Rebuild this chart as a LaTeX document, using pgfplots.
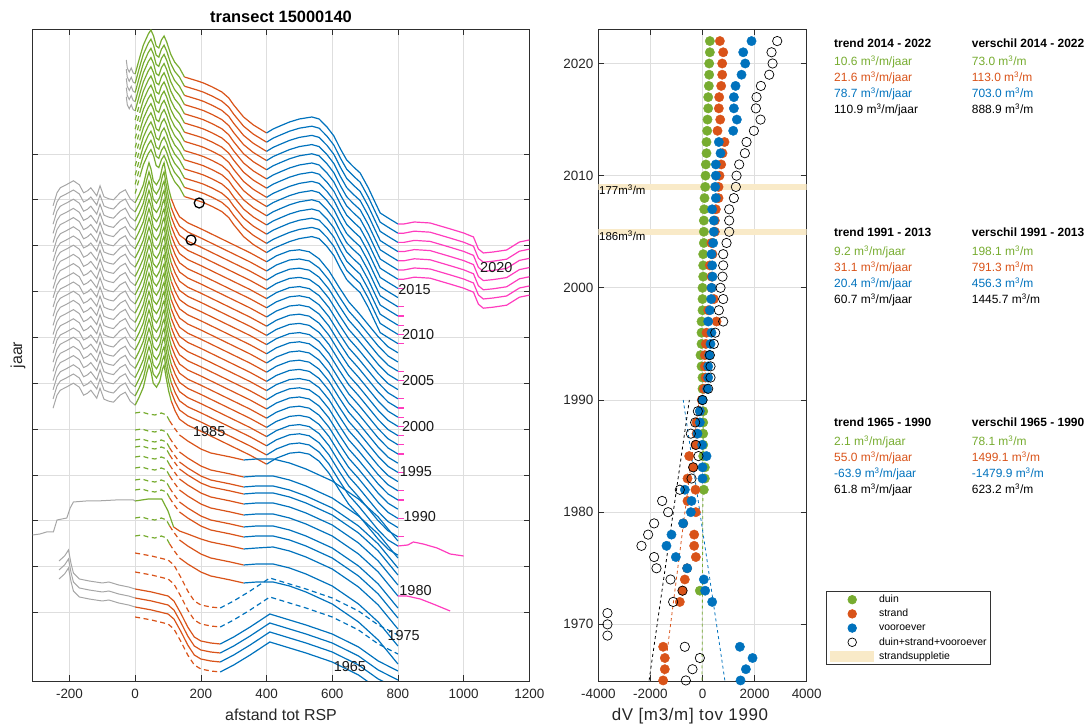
\documentclass[border=0pt]{standalone}
\usepackage{fontspec}
\setmainfont{Liberation Sans}
\usepackage{pgfplots}
\usepackage{pgfplotstable}
\pgfplotsset{compat=1.18}

\definecolor{cdu}{rgb}{0.466,0.674,0.188}
\definecolor{cst}{rgb}{0.850,0.325,0.098}
\definecolor{cvo}{rgb}{0.000,0.447,0.741}
\definecolor{cmag}{RGB}{255,60,190}
\definecolor{cgr}{rgb}{0.65,0.65,0.65}
\definecolor{cband}{RGB}{249,234,200}
\newcommand\fs[1]{\fontsize{#1}{#1}\selectfont}

% profile shapes: x = afstand tot RSP, r = hoogte t.o.v. punt op x=0
\pgfplotstableread{
x r
-27 14
-24 6
-18 2
-12 6
-6 1
0 0
10 12
16 19
25 29
40 40
48 44
56 38
64 28
72 26
80 34
88 38
96 32
108 20
120 12
135 6
150 -3
170 -5
190 -7
208 -9
235 -13
264 -18
285 -24
300 -31
330 -43
360 -51
385 -56
400 -59
420 -55
441 -52
470 -48
500 -45
538 -43
560 -45
584 -53
605 -62
625 -75
644 -86
665 -93
685 -99
710 -114
730 -128
746 -139
770 -144
785 -147
800 -150
818 -150
850 -148
898 -149
960 -155
1000 -159
1030 -163
1045 -175
1060 -179
1090 -178
1131 -176
1170 -168
1200 -166
}\shA

\pgfplotstableread{
x r
-250 -3
-238 10
-228 15
-210 18
-188 22
-170 18
-157 10
-145 12
-135 15
-117 7
-107 17
-95 6
-80 4
-66 3
-46 10
-30 13
-15 4
0 0
12 8
25 18
35 32
42 40
48 34
55 22
65 18
75 24
83 36
88 40
94 28
102 14
110 4
122 -6
135 -14
160 -20
200 -26
250 -34
300 -42
350 -50
400 -59
430 -53
470 -48
500 -47
530 -49
560 -56
590 -68
620 -84
650 -99
680 -110
710 -122
740 -134
770 -144
800 -150
818 -150
}\shC

\pgfplotstableread{
x r
0 0
20 1
40 -1
60 -2
80 0
95 -2
105 -8
117 -14
135 -22
160 -28
200 -36
230 -40
260 -42
290 -44
330 -47
370 -46
420 -46
470 -50
520 -56
600 -68
680 -86
740 -104
800 -128
818 -128
}\shG

\pgfplotstableread{
x r
-312 -34
-290 -33
-270 -31
-249 -31
-238 -19
-208 -17
-198 -7
-188 -1
-150 0
-117 0
-60 1
-5 1
0 0
40 2
81 2
100 -10
117 -26
135 -30
160 -33
200 -38
230 -41
260 -43
290 -45
330 -48
370 -47
420 -46
470 -50
520 -56
600 -68
680 -86
740 -104
800 -128
}\shGg

\pgfplotstableread{
x r
-232 28
-215 33
-203 39
-195 25
-188 16
-170 10
-140 8
-100 6
-80 7
-50 4
-20 2
0 0
50 -3
100 -7
118 -12
140 -25
160 -38
180 -48
200 -52
230 -54
259 -55
300 -48
350 -38
410 -25
460 -30
520 -36
600 -45
680 -58
740 -72
800 -82
}\shH

% dV t.o.v. 1990 [m3/m]
\pgfplotstableread{
Y V
1973 -102
1982 51
1983 90
1984 90
1985 26
1986 26
1987 26
1988 26
1989 26
1990 0
1991 0
1992 0
1993 -38
1994 -77
1995 -38
1996 -38
1997 -38
1998 0
1999 0
2000 0
2001 26
2002 26
2003 26
2004 51
2005 51
2006 51
2007 64
2008 77
2009 102
2010 115
2011 128
2012 154
2013 154
2014 179
2015 192
2016 218
2017 218
2018 243
2019 256
2020 256
2021 282
2022 282
}\duin

\pgfplotstableread{
Y V
1965 -1511
1966 -1447
1967 -1447
1968 -1511
1972 -871
1973 -768
1974 -679
1975 -590
1976 -256
1977 -320
1978 -320
1979 -740
1980 -256
1981 -576
1982 -269
1983 -576
1984 -358
1985 -512
1986 -269
1987 -230
1988 -230
1989 -100
1990 -30
1991 51
1992 115
1993 90
1994 90
1995 128
1996 154
1997 538
1998 218
1999 435
2000 346
2001 346
2002 282
2003 384
2004 346
2005 474
2006 474
2007 512
2008 615
2009 615
2010 653
2011 717
2012 768
2013 845
2014 576
2015 679
2016 627
2017 640
2018 717
2019 755
2020 755
2021 794
2022 666
}\strand

\pgfplotstableread{
Y V
1965 1460
1966 1665
1967 1921
1968 1434
1972 371
1973 102
1974 51
1975 -589
1976 -1024
1977 -1383
1978 -1191
1979 -743
1980 -448
1981 -422
1982 -678
1983 0
1984 0
1985 154
1986 -13
1987 -192
1988 -102
1989 -102
1990 0
1991 179
1992 218
1993 218
1994 256
1995 307
1996 346
1997 218
1998 282
1999 333
2000 346
2001 384
2002 371
2003 346
2004 410
2005 435
2006 435
2007 371
2008 512
2009 487
2010 512
2011 512
2012 691
2013 627
2014 1178
2015 1319
2016 1204
2017 1204
2018 1268
2019 1498
2020 1639
2021 1562
2022 1882
}\voor

\pgfplotstableread{
Y V
1965 -640
1966 -384
1967 -102
1968 -679
1969 -3649
1970 -3649
1971 -3649
1972 -1127
1973 -768
1974 -1229
1975 -1767
1976 -1857
1977 -2343
1978 -2087
1979 -1857
1980 -1319
1981 -1549
1982 -870
1983 -422
1984 -358
1985 -154
1986 -256
1987 -448
1988 -282
1989 -179
1990 0
1991 218
1992 307
1993 307
1994 282
1995 435
1996 487
1997 794
1998 627
1999 794
2000 691
2001 768
2002 794
2003 794
2004 922
2005 1024
2006 1024
2007 1024
2008 1204
2009 1280
2010 1306
2011 1408
2012 1626
2013 1690
2014 1972
2015 2228
2016 2049
2017 2074
2018 2241
2019 2561
2020 2689
2021 2650
2022 2868
}\totaal

\pgfplotsset{
  base/.style={
    scale only axis, anchor=south west,
    axis line style={draw=black!82, line width=0.7bp},
    tick style={draw=black!82, line width=0.7bp},
    major tick length=5.5bp, tick align=inside,
    xtick pos=both, ytick pos=both,
    grid=major, major grid style={draw=black!13, line width=0.7bp},
    ticklabel style={font=\fs{13.5}, text=black!85},
    xticklabel style={yshift=-5bp},
    yticklabel style={xshift=-1.5bp},
  },
  lp/.style={line width=1.2bp, no markers, forget plot},
  dsh/.style={dash pattern=on 5bp off 3.5bp},
}
\tikzset{lab/.style={anchor=west, inner sep=0pt, font=\fs{14.5}, text=black!90}}
\newcommand{\seg}[5]{\addplot[#1] table[x=x, y expr=\thisrow{r}+#3, restrict x to domain=#4:#5] {#2};}

\begin{document}
\begin{tikzpicture}[x=1bp,y=1bp]
\path[use as bounding box] (0,0) rectangle (1087,724);

\begin{axis}[base, at={(32.7bp,43bp)}, width=496.6bp, height=651.7bp,
  xmin=-312, xmax=1200, ymin=0, ymax=651.7,
  xtick={-200,0,200,400,600,800,1000,1200},
  xticklabels={-200,0,200,400,600,800,1000,1200},
  ytick={69,115,161,206,252,298,344,390,436,482,527}, yticklabels={}]

% 2018-2022: korte grijze duinrand
\pgfplotsinvokeforeach{607,597.8,588.6,579.4,570.2}{
  \seg{lp,cgr,line width=1bp}{\shA}{#1}{-30}{0}
  \seg{lp,cdu}{\shA}{#1}{0}{150}
}
% 2009-2017: gestreept begin duin
\pgfplotsinvokeforeach{561,551.8,542.6,533.4,524.2,515,505.8,496.6,487.4}{
  \seg{lp,cdu,dsh}{\shA}{#1}{0}{16}
  \seg{lp,cdu}{\shA}{#1}{16}{150}
}
\pgfplotsinvokeforeach{607,597.8,588.6,579.4,570.2,561,551.8,542.6,533.4,524.2,515,505.8,496.6,487.4}{
  \seg{lp,cst}{\shA}{#1}{150}{400}
  \seg{lp,cvo}{\shA}{#1}{400}{800}
}
\pgfplotsinvokeforeach{607,597.8,588.6,579.4,570.2,561,551.8}{
  \seg{lp,cmag}{\shA}{#1}{800}{1200}
}
\pgfplotsinvokeforeach{542.6,524.2,515,505.8,496.6,487.4}{
  \seg{lp,cmag}{\shA}{#1}{800}{818}
}
% 1986-2008
\pgfplotsinvokeforeach{478.2,469,459.8,450.6,441.4,432.2,423,413.8,404.6,395.4,386.2,377,367.8,358.6,349.4,340.2,331,321.8,312.6,303.4,294.2,285,275.8}{
  \seg{lp,cgr,line width=1bp}{\shC}{#1}{-260}{0}
  \seg{lp,cdu}{\shC}{#1}{0}{110}
  \seg{lp,cst}{\shC}{#1}{110}{400}
  \seg{lp,cvo}{\shC}{#1}{400}{800}
}
\pgfplotsinvokeforeach{459.8,450.6,432.2,423,413.8,404.6,395.4,386.2,377,358.6,340.2,331,312.6,294.2}{
  \seg{lp,cmag}{\shC}{#1}{800}{818}
}
\addplot[lp,cmag] coordinates {(800,135) (830,136) (847,139) (877,137) (919,133) (959,127) (1000,125)};
% 1975-1985
\pgfplotsinvokeforeach{268,251,241,234,224,213,201,191,163,145}{
  \seg{lp,cdu,dsh}{\shG}{#1}{0}{105}
  \seg{lp,cst,dsh}{\shG}{#1}{105}{135}
  \seg{lp,cst}{\shG}{#1}{135}{330}
  \seg{lp,cvo}{\shG}{#1}{330}{800}
}
\addplot[lp,cmag] coordinates {(800,85) (827,85) (868,82) (907,77) (959,70)};
% 1977
\seg{lp,cgr,line width=1bp}{\shGg}{180}{-320}{0}
\seg{lp,cdu}{\shGg}{180}{0}{117}
\seg{lp,cst}{\shGg}{180}{117}{330}
\seg{lp,cvo}{\shGg}{180}{330}{800}
% 1965-1974
\pgfplotsinvokeforeach{92,83,74}{
  \seg{lp,cgr,line width=1bp}{\shH}{#1}{-240}{0}
  \seg{lp,cst}{\shH}{#1}{0}{259}
  \seg{lp,cvo}{\shH}{#1}{259}{800}
}
\pgfplotsinvokeforeach{128,109}{
  \seg{lp,cst,dsh}{\shH}{#1}{0}{259}
  \seg{lp,cvo,dsh}{\shH}{#1}{259}{800}
}
\seg{lp,cst,dsh}{\shH}{64}{0}{259}
\seg{lp,cvo}{\shH}{64}{259}{800}

\addplot[only marks, mark=o, mark size=5, black, line width=1.3bp, forget plot] coordinates {(195,478) (170,441)};

\node[lab] at (axis cs:1050,413) {2020};
\node[lab] at (axis cs:801,391) {2015};
\node[lab] at (axis cs:812,346) {2010};
\node[lab] at (axis cs:812,300) {2005};
\node[lab] at (axis cs:812,254) {2000};
\node[lab] at (axis cs:805,209) {1995};
\node[lab] at (axis cs:817,164) {1990};
\node[lab] at (axis cs:176,249) {1985};
\node[lab] at (axis cs:804,90) {1980};
\node[lab] at (axis cs:768,45) {1975};
\node[lab] at (axis cs:604,14) {1965};
\end{axis}

\node[anchor=base, font=\fs{16.5}\bfseries] at (281,701) {transect 15000140};
\node[anchor=base, font=\fs{16}, text=black!85] at (281,3) {afstand tot RSP};
\node[rotate=90, font=\fs{16}, text=black!85] at (18,369) {jaar};

\begin{axis}[base, at={(598.3bp,43bp)}, width=208.4bp, height=651.7bp,
  xmin=-4000, xmax=4000, ymin=1964.95, ymax=2023.05,
  xtick={-4000,-2000,0,2000,4000}, xticklabels={-4000,-2000,0,2000,4000},
  ytick={1970,1980,1990,2000,2010,2020}, yticklabels={1970,1980,1990,2000,2010,2020},
  legend style={at={(1.0926,0.1381)}, anchor=north west, draw=black!80, line width=0.7bp,
    font=\fs{10.5}, inner xsep=4bp, inner ysep=3bp, row sep=3.5bp,
    nodes={inner sep=0pt, text height=8bp, text depth=2.5bp}},
  legend cell align=left]

\addplot[cband, line width=6bp, forget plot] coordinates {(-4000,2009) (4000,2009)};
\addplot[cband, line width=6bp, forget plot] coordinates {(-4000,2005) (4000,2005)};
\node[anchor=west, inner sep=0pt, font=\fs{11.5}] at (axis cs:-3975,2008.75) {177m\textsuperscript{3}/m};
\node[anchor=west, inner sep=0pt, font=\fs{11.5}] at (axis cs:-3975,2004.65) {186m\textsuperscript{3}/m};

\addplot[cdu, dashed, line width=0.8bp, forget plot] coordinates {(-20,1965) (33,1990)};
\addplot[cst, dashed, line width=0.8bp, forget plot] coordinates {(-1500,1965) (-125,1990)};
\addplot[cvo, dashed, line width=0.8bp, forget plot] coordinates {(858,1965) (-740,1990)};
\addplot[black, dashed, line width=0.8bp, forget plot] coordinates {(-2050,1965) (-505,1990)};

\addplot[only marks, mark=*, mark size=4.7, cdu, forget plot] table[x=V, y=Y] {\duin};
\addplot[only marks, mark=*, mark size=4.7, cst, forget plot] table[x=V, y=Y] {\strand};
\addplot[only marks, mark=*, mark size=4.7, cvo, forget plot] table[x=V, y=Y] {\voor};
\addplot[only marks, mark=o, mark size=4.7, black, line width=0.7bp, forget plot] table[x=V, y=Y] {\totaal};

\addlegendimage{legend image code/.code={\path (0,-5bp) (48bp,5bp); \fill[cdu] (21.5bp,0) circle (4.3bp);}}
\addlegendentry{duin}
\addlegendimage{legend image code/.code={\path (0,-5bp) (48bp,5bp); \fill[cst] (21.5bp,0) circle (4.3bp);}}
\addlegendentry{strand}
\addlegendimage{legend image code/.code={\path (0,-5bp) (48bp,5bp); \fill[cvo] (21.5bp,0) circle (4.3bp);}}
\addlegendentry{vooroever}
\addlegendimage{legend image code/.code={\path (0,-5bp) (48bp,5bp); \draw[black, line width=0.7bp] (21.5bp,0) circle (4.3bp);}}
\addlegendentry{duin+strand+vooroever}
\addlegendimage{legend image code/.code={\path (0,-5bp) (48bp,5bp); \fill[cband] (0,-5bp) rectangle (43bp,5bp);}}
\addlegendentry{strandsuppletie}
\end{axis}

\node[anchor=base, font=\fs{17}\addfontfeature{LetterSpace=4}, text=black!85] at (690,3) {dV [m3/m] tov 1990};

\begin{scope}[every node/.style={anchor=base west, inner sep=0pt, font=\fs{12}}]
\node[font=\fs{12}\bfseries] at (834,676.7) {trend 2014 - 2022};
\node[text=cdu] at (834,658) {10.6 m\textsuperscript{3}/m/jaar};
\node[text=cst] at (834,642) {21.6 m\textsuperscript{3}/m/jaar};
\node[text=cvo] at (834,626) {78.7 m\textsuperscript{3}/m/jaar};
\node at (834,610) {110.9 m\textsuperscript{3}/m/jaar};
\node[font=\fs{12}\bfseries] at (971.7,676.7) {verschil 2014 - 2022};
\node[text=cdu] at (971.7,658) {73.0 m\textsuperscript{3}/m};
\node[text=cst] at (971.7,642) {113.0 m\textsuperscript{3}/m};
\node[text=cvo] at (971.7,626) {703.0 m\textsuperscript{3}/m};
\node at (971.7,610) {888.9 m\textsuperscript{3}/m};

\node[font=\fs{12}\bfseries] at (834,487.3) {trend 1991 - 2013};
\node[text=cdu] at (834,468) {9.2 m\textsuperscript{3}/m/jaar};
\node[text=cst] at (834,452) {31.1 m\textsuperscript{3}/m/jaar};
\node[text=cvo] at (834,436) {20.4 m\textsuperscript{3}/m/jaar};
\node at (834,420) {60.7 m\textsuperscript{3}/m/jaar};
\node[font=\fs{12}\bfseries] at (971.7,487.3) {verschil 1991 - 2013};
\node[text=cdu] at (971.7,468) {198.1 m\textsuperscript{3}/m};
\node[text=cst] at (971.7,452) {791.3 m\textsuperscript{3}/m};
\node[text=cvo] at (971.7,436) {456.3 m\textsuperscript{3}/m};
\node at (971.7,420) {1445.7 m\textsuperscript{3}/m};

\node[font=\fs{12}\bfseries] at (834,297.3) {trend 1965 - 1990};
\node[text=cdu] at (834,278) {2.1 m\textsuperscript{3}/m/jaar};
\node[text=cst] at (834,262) {55.0 m\textsuperscript{3}/m/jaar};
\node[text=cvo] at (834,246) {-63.9 m\textsuperscript{3}/m/jaar};
\node at (834,230) {61.8 m\textsuperscript{3}/m/jaar};
\node[font=\fs{12}\bfseries] at (971.7,297.3) {verschil 1965 - 1990};
\node[text=cdu] at (971.7,278) {78.1 m\textsuperscript{3}/m};
\node[text=cst] at (971.7,262) {1499.1 m\textsuperscript{3}/m};
\node[text=cvo] at (971.7,246) {-1479.9 m\textsuperscript{3}/m};
\node at (971.7,230) {623.2 m\textsuperscript{3}/m};
\end{scope}
\end{tikzpicture}
\end{document}
